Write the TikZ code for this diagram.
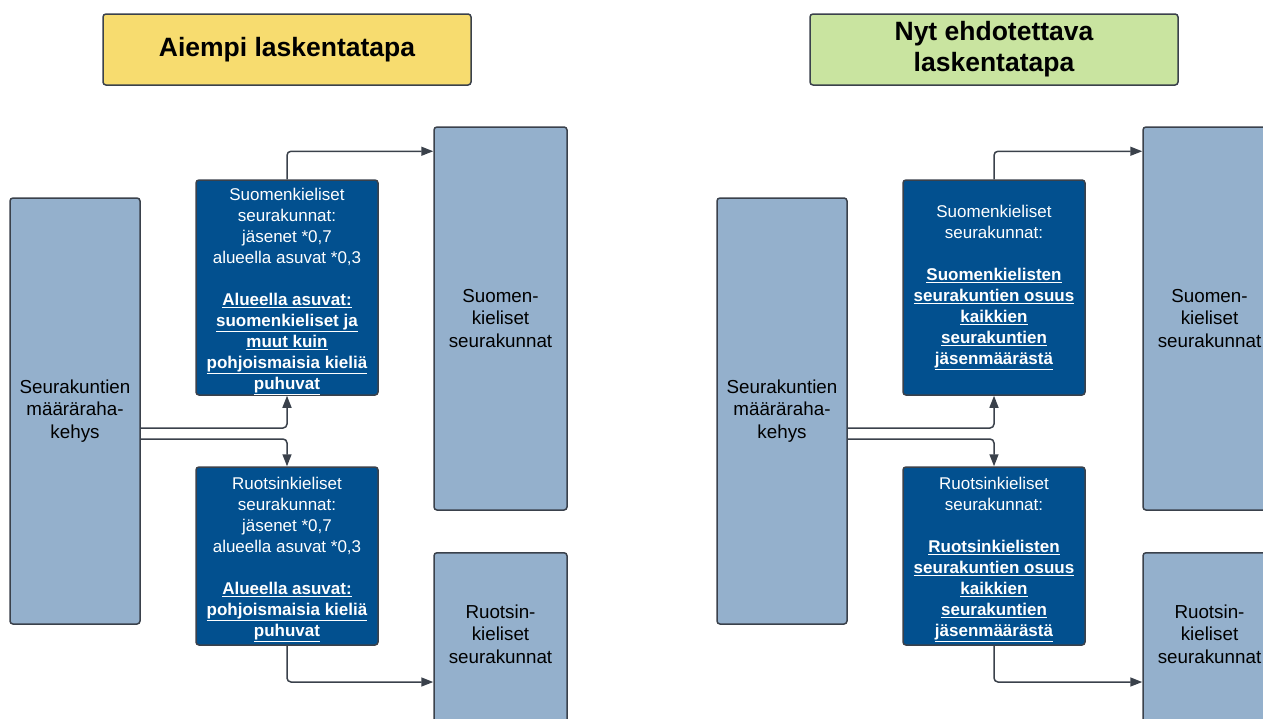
\documentclass[tikz,border=0pt]{standalone}
\usepackage{fontspec}
\setmainfont{Liberation Sans}
\usetikzlibrary{arrows.meta,positioning,calc}
\definecolor{titleyellow}{HTML}{F7DC6F}
\definecolor{titlegreen}{HTML}{C9E4A0}
\definecolor{calcblue}{HTML}{02508F}
\definecolor{framegrey}{HTML}{94B0CC}
\definecolor{edgegrey}{HTML}{3A414B}
\newcommand{\ulb}[1]{\underline{\textbf{#1}}}
\newcommand{\topgap}{\rule{0pt}{20pt}}

\begin{document}
\begin{tikzpicture}[x=1pt, y=-1pt, >={Triangle[length=12pt,width=9pt]}, font=\fontsize{17}{21}\selectfont]
\tikzstyle{title}=[draw=edgegrey, line width=1.5pt, rounded corners=3pt, minimum width=368pt, minimum height=71pt, align=center, font=\fontsize{26.5}{31}\selectfont\bfseries]
\tikzstyle{frame}=[draw=edgegrey, fill=framegrey, line width=1.5pt, rounded corners=3pt, minimum width=133pt, align=center, inner sep=2pt, font=\fontsize{18.8}{22.5}\selectfont]
\tikzstyle{calc}=[draw=edgegrey, fill=calcblue, text=white, line width=1.5pt, rounded corners=3pt, minimum width=182pt, align=center, inner xsep=2pt, inner ysep=0pt]
\tikzstyle{flow}=[->, draw=edgegrey, line width=1.5pt, rounded corners=4pt]
\useasboundingbox (0,0) rectangle (1263,718);
\clip (0,0) rectangle (1263,718);

% aiempi laskentatapa
\node[title, fill=titleyellow] (titleA) at (287,49.5) {Aiempi laskentatapa};
\node[frame, minimum width=130pt, minimum height=426pt] (frameA) at (75,411) {Seurakuntien\\määräraha-\\kehys};
\node[calc, minimum height=215pt] (fiA) at (287,287.5) {\topgap Suomenkieliset\\seurakunnat:\\jäsenet *0,7\\alueella asuvat *0,3\\[21pt]\ulb{Alueella asuvat:}\\\ulb{suomenkieliset ja}\\\ulb{muut kuin}\\\ulb{pohjoismaisia kieliä}\\\ulb{puhuvat}};
\node[calc, minimum height=178pt] (svA) at (287,556) {\topgap Ruotsinkieliset\\seurakunnat:\\jäsenet *0,7\\alueella asuvat *0,3\\[21pt]\ulb{Alueella asuvat:}\\\ulb{pohjoismaisia kieliä}\\\ulb{puhuvat}};
\node[frame, minimum height=383pt] (fiOutA) at (500.5,318.5) {Suomen-\\kieliset\\seurakunnat};
\node[frame, anchor=north, inner ysep=52pt] (svOutA) at (500.5,552) {Ruotsin-\\kieliset\\seurakunnat\\\rule{0pt}{120pt}};
\draw[flow] (fiA.north) |- ([yshift=-25pt]fiOutA.north west);
\draw[flow] ([yshift=-17pt]frameA.east) -| (fiA.south);
\draw[flow] ([yshift=-28pt]frameA.east) -| (svA.north);
\draw[flow] (svA.south) |- ([yshift=-130pt]svOutA.north west);

% nyt ehdotettava laskentatapa
\begin{scope}[xshift=708pt]
\node[title, fill=titlegreen] (titleB) at (286,49.5) {Nyt ehdotettava\\laskentatapa};
\node[frame, minimum width=130pt, minimum height=426pt] (frameB) at (74,411) {Seurakuntien\\määräraha-\\kehys};
\node[calc, minimum height=215pt] (fiB) at (286,287.5) {Suomenkieliset\\seurakunnat:\\[21pt]\ulb{Suomenkielisten}\\\ulb{seurakuntien osuus}\\\ulb{kaikkien}\\\ulb{seurakuntien}\\\ulb{jäsenmäärästä}};
\node[calc, minimum height=178pt] (svB) at (286,556) {\topgap Ruotsinkieliset\\seurakunnat:\\[21pt]\ulb{Ruotsinkielisten}\\\ulb{seurakuntien osuus}\\\ulb{kaikkien}\\\ulb{seurakuntien}\\\ulb{jäsenmäärästä}};
\node[frame, minimum height=383pt] (fiOutB) at (501.5,318.5) {Suomen-\\kieliset\\seurakunnat};
\node[frame, anchor=north, inner ysep=52pt] (svOutB) at (501.5,552) {Ruotsin-\\kieliset\\seurakunnat\\\rule{0pt}{120pt}};
\draw[flow] (fiB.north) |- ([yshift=-25pt]fiOutB.north west);
\draw[flow] ([yshift=-17pt]frameB.east) -| (fiB.south);
\draw[flow] ([yshift=-28pt]frameB.east) -| (svB.north);
\draw[flow] (svB.south) |- ([yshift=-130pt]svOutB.north west);
\end{scope}
\end{tikzpicture}
\end{document}
